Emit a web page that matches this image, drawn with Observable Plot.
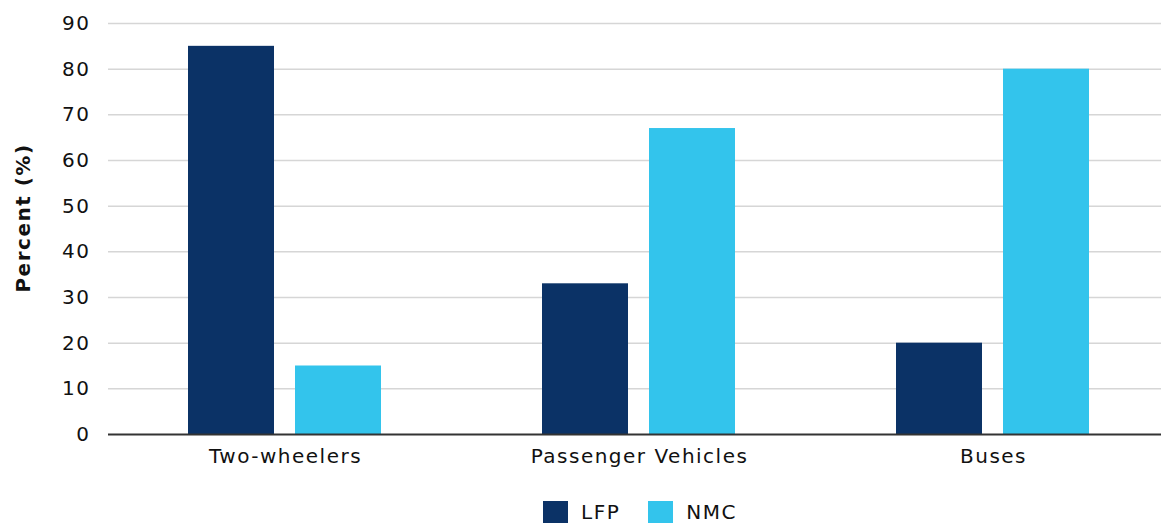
<!DOCTYPE html>
<html>
<head>
<meta charset="utf-8">
<script src="https://cdn.jsdelivr.net/npm/d3@7"></script>
<script src="https://cdn.jsdelivr.net/npm/@observablehq/plot@0.6"></script>
<style>
  html, body { margin: 0; padding: 0; background: #fff; overflow: hidden; }
  body { width: 1161px; height: 523px; font-family: "DejaVu Sans", sans-serif; }
  #legend { display: flex; justify-content: flex-start; margin-top: 20px; padding-left: 543px; font-size: 20px; letter-spacing: 1.5px; color: #111; }
  .item { display: flex; align-items: center; margin-right: 28px; }
  .sw { width: 25px; height: 23px; margin-right: 13px; }
</style>
</head>
<body>
<div id="chart"></div>
<div id="legend"></div>
<script>
// Battery chemistry share by vehicle segment
const categories = ["Two-wheelers", "Passenger Vehicles", "Buses"];
const series = ["LFP", "NMC"];
const lfpValues = [85, 33, 20];
const nmcValues = [15, 67, 80];
const colors = ["#0b3266", "#33c4ec"];
const yTicks = [0, 10, 20, 30, 40, 50, 60, 70, 80, 90];

const rows = categories.flatMap((c, i) => [
  {category: c, series: "LFP", value: lfpValues[i]},
  {category: c, series: "NMC", value: nmcValues[i]}
]);

const font = "'DejaVu Sans', sans-serif";

const chart = Plot.plot({
  width: 1161,
  height: 480,
  marginTop: 23,
  marginBottom: 46,
  marginLeft: 107,
  marginRight: -9,
  style: {fontFamily: font, fontSize: "20px", letterSpacing: "1.5px", color: "#111", overflow: "visible"},
  fx: {domain: categories, padding: 0, label: null, axis: "bottom", tickSize: 0, tickPadding: 14},
  x: {domain: series, paddingInner: 0.194, paddingOuter: 0.738, axis: null},
  y: {domain: [0, 90], ticks: yTicks, label: null, tickSize: 0, tickPadding: 18},
  color: {domain: series, range: colors},
  marks: [
    Plot.ruleY(yTicks.filter(d => d > 0), {stroke: "#d6d6d6", strokeWidth: 1.5, facet: "exclude"}),
    Plot.barY(rows, {fx: "category", x: "series", y: "value", fill: "series"}),
    Plot.ruleY([0], {stroke: "#333", strokeWidth: 2}),
    Plot.axisY({ticks: yTicks, tickSize: 0, tickPadding: 18, label: null}),
    // axis title, drawn once in the first facet
    Plot.text([{fx: categories[0], t: "Percent (%)"}], {
      fx: "fx", text: "t", frameAnchor: "left", textAnchor: "middle", dx: -85, dy: -11, rotate: -90,
      fontWeight: "bold", fontSize: 20, fill: "#111", style: "letter-spacing: 1px"
    })
  ]
});
document.getElementById("chart").appendChild(chart);

const legend = document.getElementById("legend");
series.forEach((s, i) => {
  const item = document.createElement("div");
  item.className = "item";
  const sw = document.createElement("div");
  sw.className = "sw";
  sw.style.background = colors[i];
  const label = document.createElement("span");
  label.textContent = s;
  item.append(sw, label);
  legend.append(item);
});
</script>
</body>
</html>
